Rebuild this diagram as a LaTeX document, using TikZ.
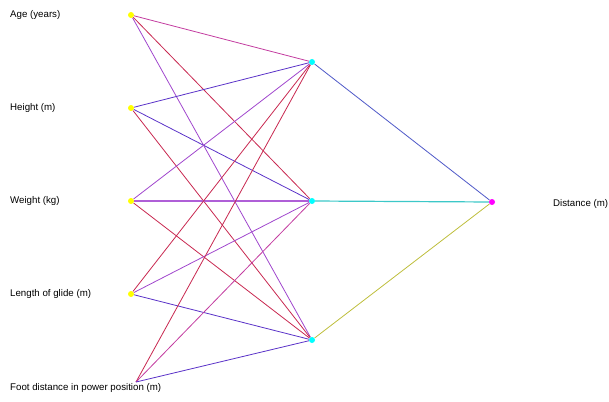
\documentclass[tikz,border=0pt]{standalone}
\usepackage{fontspec}
\setmainfont{Liberation Sans}
\usetikzlibrary{positioning,backgrounds}
\definecolor{inyel}{RGB}{255,255,0}
\definecolor{hidcyan}{RGB}{0,255,255}
\definecolor{outmag}{RGB}{255,0,255}
\definecolor{wred}{RGB}{200,40,80}
\definecolor{wpink}{RGB}{195,60,160}
\definecolor{wviolet}{RGB}{160,70,205}
\definecolor{wlilac}{RGB}{175,95,215}
\definecolor{wblue}{RGB}{90,50,200}
\definecolor{wsky}{RGB}{80,90,200}
\definecolor{wcyan}{RGB}{60,200,200}
\definecolor{wolive}{RGB}{190,190,60}
\tikzset{
  unit/.style={circle,inner sep=0pt,minimum size=6pt},
  inunit/.style={unit,fill=inyel},
  hidunit/.style={unit,fill=hidcyan},
  outunit/.style={unit,fill=outmag},
  lbl/.style={font=\fontsize{9.7}{11}\selectfont,inner sep=0pt,anchor=west},
  wt/.style={line width=0.8pt}
}
\begin{document}
\begin{tikzpicture}[x=1pt,y=-1pt]
  \useasboundingbox (0,0) rectangle (609,401);

  % input layer
  \node[inunit] (in1) at (131,15) {};
  \node[inunit] (in2) at (131,108) {};
  \node[inunit] (in3) at (131,201) {};
  \node[inunit] (in4) at (131,294) {};
  \coordinate (in5) at (136,382);
  \node[lbl] (l1) at (10,15) {Age (years)};
  \node[lbl] (l2) at (10,108) {Height (m)};
  \node[lbl] (l3) at (10,201) {Weight (kg)};
  \node[lbl] (l4) at (10,294) {Length of glide (m)};
  \node[lbl] (l5) at (10,388) {Foot distance in power position (m)};

  % hidden layer
  \node[hidunit] (h1) at (312,62) {};
  \node[hidunit] (h2) at (312,201) {};
  \node[hidunit] (h3) at (312,340) {};

  % output layer
  \node[outunit] (out) at (492,202) {};
  \node[lbl] (lout) at (553,204) {Distance (m)};

  \begin{scope}[on background layer]
    \draw[wt,wpink] (in1)--(h1);
    \draw[wt,wred] (in1)--(h2);
    \draw[wt,wviolet] (in1)--(h3);
    \draw[wt,wblue] (in2)--(h1);
    \draw[wt,wblue] (in2)--(h2);
    \draw[wt,wred] (in2)--(h3);
    \draw[wt,wviolet] (in3)--(h1);
    \draw[line width=1.2pt,wlilac] (in3)--(h2);
    \draw[wt,wred] (in3)--(h3);
    \draw[wt,wred] (in4)--(h1);
    \draw[wt,wviolet] (in4)--(h2);
    \draw[wt,wblue] (in4)--(h3);
    \draw[wt,wred] (in5)--(h1);
    \draw[wt,wpink] (in5)--(h2);
    \draw[wt,wblue] (in5)--(h3);
    \draw[wt,wsky] (h1)--(out);
    \draw[line width=1.2pt,wcyan] (h2)--(out);
    \draw[wt,wolive] (h3)--(out);
  \end{scope}
\end{tikzpicture}
\end{document}
